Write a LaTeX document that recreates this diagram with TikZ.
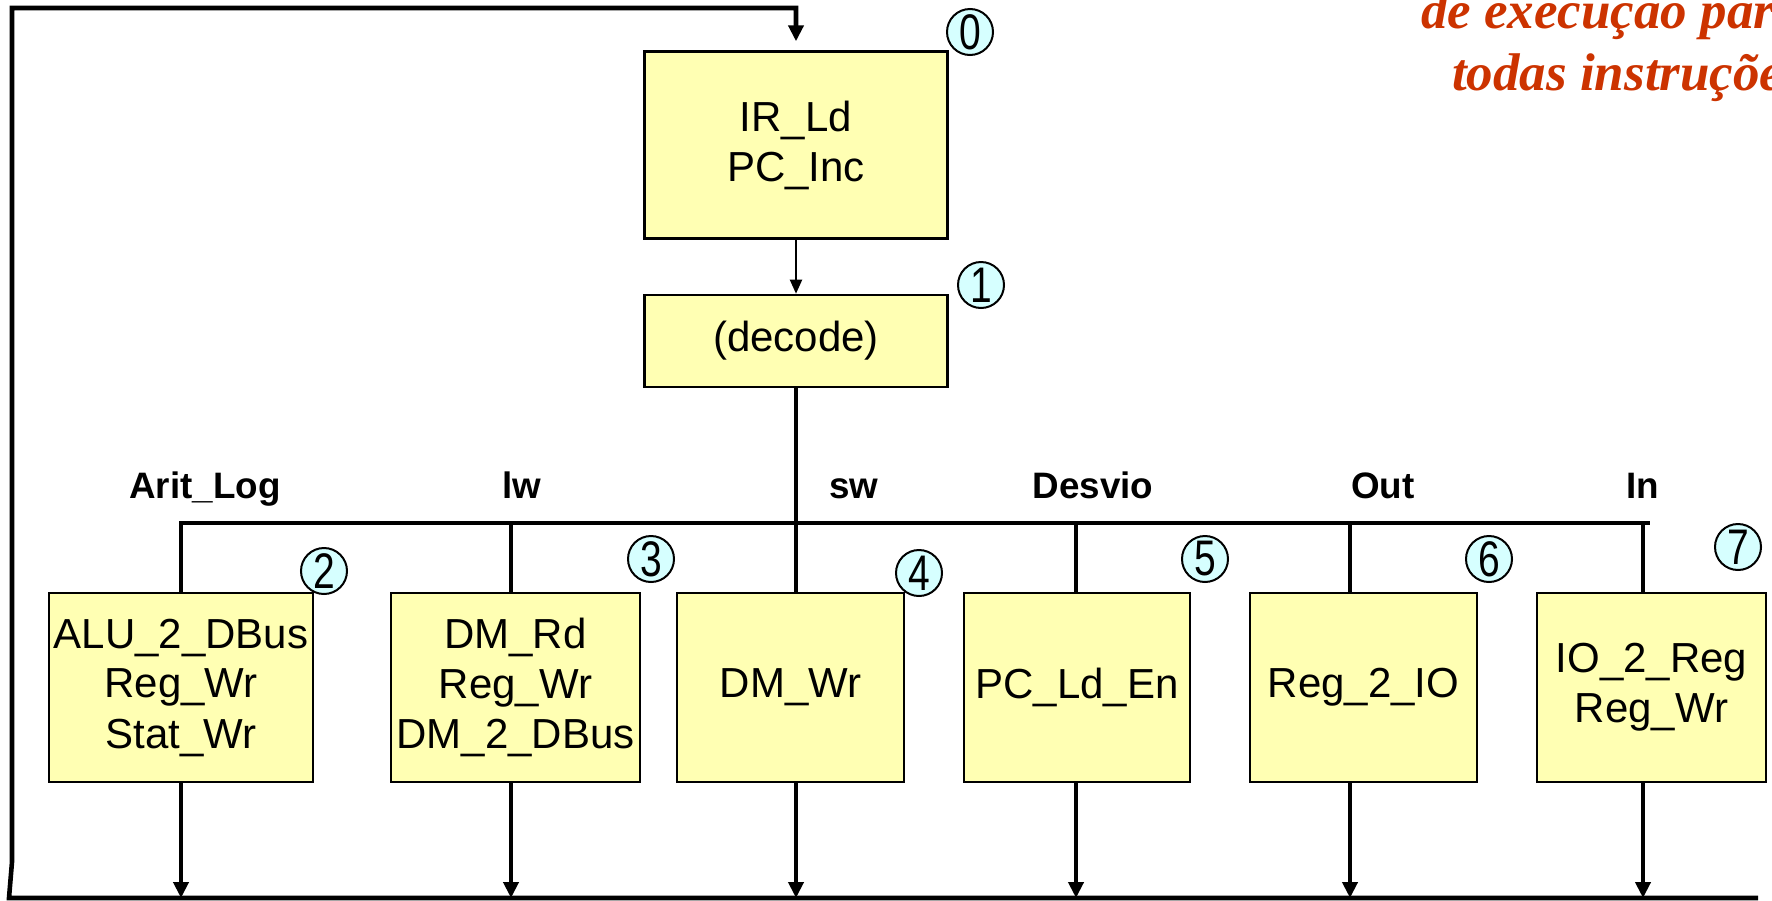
\documentclass[tikz,border=0pt]{standalone}
\usepackage{fontspec}
\setmainfont{Liberation Sans}
\newfontfamily\notefont{Liberation Serif}
\usepackage{graphicx}
\usepackage{xcolor}
\usetikzlibrary{arrows.meta,positioning,calc}
\definecolor{boxyellow}{RGB}{255,255,179}
\definecolor{stepcyan}{RGB}{214,255,255}
\definecolor{notered}{RGB}{204,51,0}
\newcommand{\cnum}[1]{\scalebox{0.78}[1]{#1}}

\begin{document}
\begin{tikzpicture}[x=0.5pt, y=-0.5pt, every node/.style={align=center}]
\tikzset{
  state/.style={draw, line width=1.2pt, fill=boxyellow, inner sep=0pt, minimum height=94.5pt, font=\fontsize{21}{25}\selectfont},
  num/.style={circle, draw, line width=1pt, fill=stepcyan, minimum size=23pt, inner sep=0pt, font=\fontsize{25}{25}\selectfont},
  opname/.style={anchor=base, font=\fontsize{18.4}{22}\selectfont\bfseries},
  wire/.style={line width=2.3pt},
  flow/.style={wire, -{Triangle[length=8pt,width=7.5pt]}}
}
\useasboundingbox (0,0) rectangle (1772,900);

% busca e decodificacao
\node[state, minimum width=151.5pt, minimum height=93.5pt] (ir) at (796,145) {IR\_Ld\\PC\_Inc};
\node[state, minimum width=151.5pt, minimum height=46pt, below=27pt of ir] (dec) {(decode)};
\draw[line width=1pt, -{Triangle[length=7pt,width=6pt]}] (ir.south) -- (dec.north);

% estados de execucao
\node[state, minimum width=132pt] (alu) at (181,687.5) {ALU\_2\_DBus\\Reg\_Wr\\Stat\_Wr};
\node[state, minimum width=124.5pt] (lwbox) at (515.5,687.5) {DM\_Rd\\Reg\_Wr\\DM\_2\_DBus};
\node[state, minimum width=113.5pt] (swbox) at (790.5,687.5) {DM\_Wr};
\node[state, minimum width=113pt] (desviobox) at (1077,687.5) {PC\_Ld\_En};
\node[state, minimum width=113.5pt] (outbox) at (1363.5,687.5) {Reg\_2\_IO};
\node[state, minimum width=114.5pt] (inbox) at (1651.5,687.5) {IO\_2\_Reg\\Reg\_Wr};

% numeros dos estados
\node[num] (n0) at (970,32) {\cnum{0}};
\node[num] (n1) at (981,285) {\cnum{1}};
\node[num] (n2) at (324,571) {\cnum{2}};
\node[num] (n3) at (651,559) {\cnum{3}};
\node[num] (n4) at (919,573) {\cnum{4}};
\node[num] (n5) at (1205,559) {\cnum{5}};
\node[num] (n6) at (1489,559) {\cnum{6}};
\node[num] (n7) at (1738,547) {\cnum{7}};

% classes de instrucao
\node[opname] (lArit) at (205,498) {Arit\_Log};
\node[opname] (lLw) at (522,498) {lw};
\node[opname] (lSw) at (854,498) {sw};
\node[opname] (lDesvio) at (1093,498) {Desvio};
\node[opname] (lOut) at (1383,498) {Out};
\node[opname] (lIn) at (1643,498) {In};

% barramento de selecao
\coordinate (bArit) at (181,523);
\coordinate (bLw) at (511,523);
\coordinate (bDesvio) at (1076,523);
\coordinate (bOut) at (1350,523);
\coordinate (bIn) at (1643,523);
\coordinate (busEnd) at (1650,523);
\draw[wire] (alu.north) -- (bArit) -- (busEnd);
\draw[wire] (dec.south) -- (dec.south |- swbox.north);
\draw[wire] (bLw) -- (bLw |- lwbox.north);
\draw[wire] (bDesvio) -- (bDesvio |- desviobox.north);
\draw[wire] (bOut) -- (bOut |- outbox.north);
\draw[wire] (bIn) -- (bIn |- inbox.north);

% retorno
\coordinate (loopR) at (1758,898);
\coordinate (loopL) at (9,898);
\coordinate (kink) at (12,862);
\coordinate (loopT) at (12,8);
\draw[flow] (alu.south) -- (alu.south |- loopR);
\draw[flow] (bLw |- lwbox.south) -- (bLw |- loopR);
\draw[flow] (dec.south |- swbox.south) -- (dec.south |- loopR);
\draw[flow] (bDesvio |- desviobox.south) -- (bDesvio |- loopR);
\draw[flow] (bOut |- outbox.south) -- (bOut |- loopR);
\draw[flow] (bIn |- inbox.south) -- (bIn |- loopR);
\draw[flow, shorten >=4.5pt] (loopR) -- (loopL) -- (kink) -- (loopT) -| (ir.north);

% nota
\node[anchor=base west, text=notered, font=\notefont\fontsize{26.5}{33}\selectfont\bfseries\itshape] (nota1) at (1414,28) {de execuçao par};
\node[anchor=base west, text=notered, font=\notefont\fontsize{26.5}{33}\selectfont\bfseries\itshape] (nota2) at (1445,90) {todas instruçõe};
\end{tikzpicture}
\end{document}
